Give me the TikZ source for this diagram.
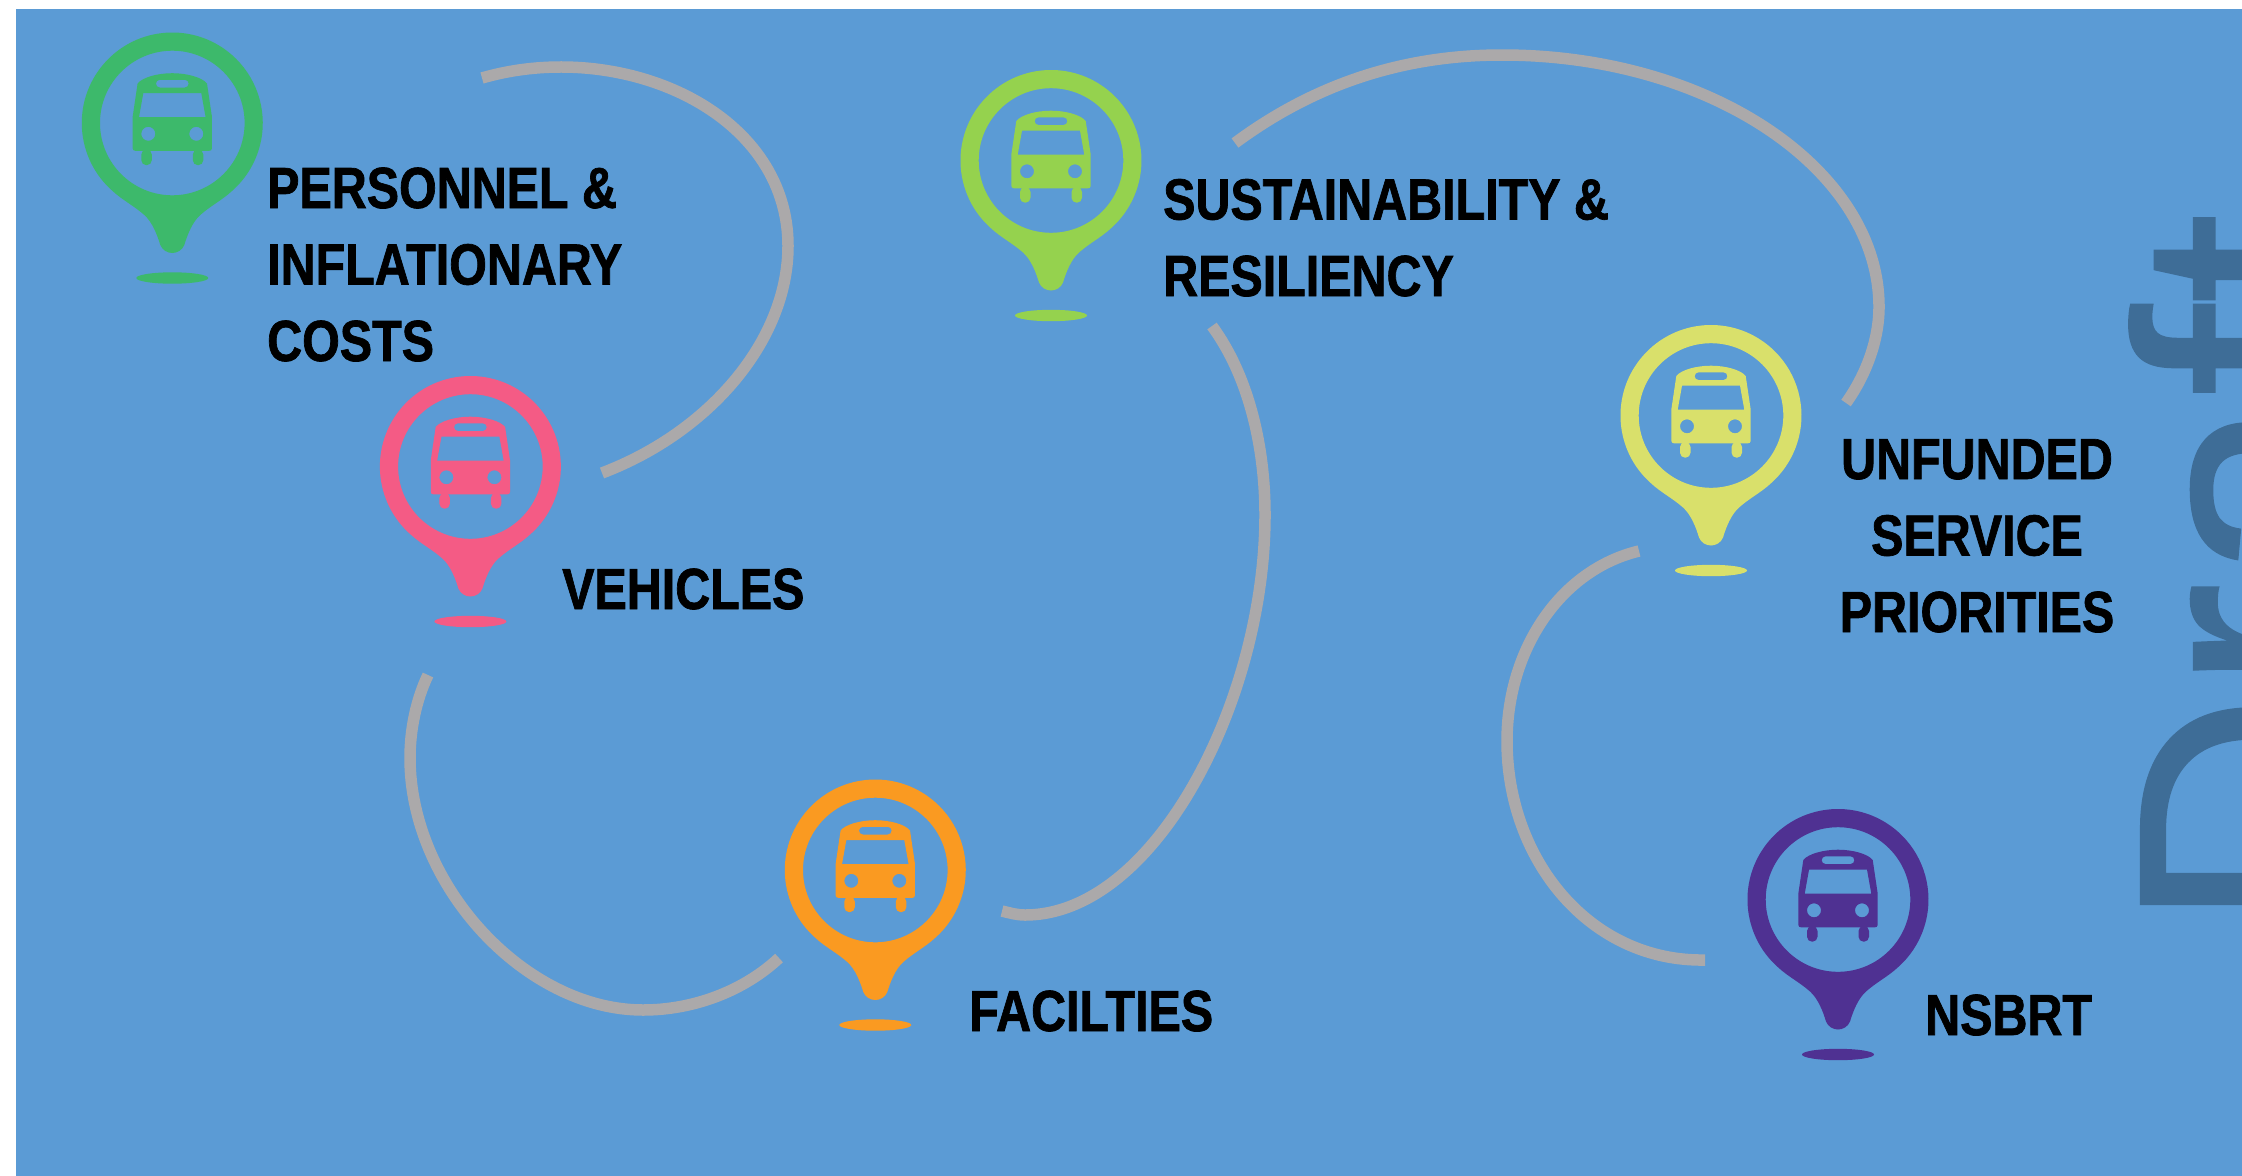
\documentclass[tikz,border=0pt]{standalone}
\usepackage{fontspec}
\setmainfont{Liberation Sans}
\newfontfamily\labelfont[FakeStretch=0.835,FakeBold=1.2]{Liberation Sans Bold}
\newfontfamily\draftfont[FakeBold=0.4]{Liberation Sans}
\definecolor{bgblue}{HTML}{5B9BD5}
\definecolor{draftblue}{HTML}{3E6D97}
\definecolor{arcgrey}{HTML}{ABA9AA}
\definecolor{pinA}{HTML}{3DB96B}
\definecolor{pinB}{HTML}{F45B85}
\definecolor{pinC}{HTML}{FA9A21}
\definecolor{pinD}{HTML}{95D24E}
\definecolor{pinE}{HTML}{D9E06B}
\definecolor{pinF}{HTML}{4F3192}
\tikzset{
  arcline/.style={draw=arcgrey,line width=11.5pt},
  lab/.style={inner sep=0pt,anchor=base west,font=\labelfont\fontsize{58}{76.5}\selectfont,text=black},
  buspin/.pic={
    \fill[even odd rule,pic actions]
      (-59.4,68.3) arc[start angle=131,end angle=409,radius=90.5]
      .. controls (50,77) and (38,83) .. (28,92)
      .. controls (20,99) and (15,112) .. (12,122)
      .. controls (10,127) and (5,130) .. (0,130)
      .. controls (-5,130) and (-10,127) .. (-12,122)
      .. controls (-15,112) and (-20,99) .. (-28,92)
      .. controls (-38,83) and (-50,77) .. (-59.4,68.3) -- cycle
      (0,0) circle[radius=72.3];
    \fill[pic actions] (0,155) ellipse[x radius=36,y radius=5.7];
    \begin{scope}[shift={(0,-1.5)}]
    \fill[even odd rule,pic actions]
      (-39.6,27) -- (-39.6,-5) -- (-34.7,-38)
      .. controls (-30,-44) and (-15,-48.3) .. (0,-48.3)
      .. controls (15,-48.3) and (30,-44) .. (34.7,-38)
      -- (39.6,-5) -- (39.6,27) .. controls (39.6,28.5) and (38.5,29.3) .. (37,29.3)
      -- (-37,29.3) .. controls (-38.5,29.3) and (-39.6,28.5) .. (-39.6,27) -- cycle
      (-29,-28.3) -- (29,-28.3) -- (33.3,-4.3) -- (-33.3,-4.3) -- cycle
      (-24,12.3) circle[radius=7]
      (24,12.3) circle[radius=7]
      (-12.5,-41.7) -- (12.5,-41.7) arc[start angle=-90,end angle=90,radius=3.85]
      -- (-12.5,-34) arc[start angle=90,end angle=270,radius=3.85] -- cycle;
    \fill[pic actions,rounded corners=5pt] (-31,28) rectangle (-20.5,43.7);
    \fill[pic actions,rounded corners=5pt] (20.5,28) rectangle (31,43.7);
    \end{scope}
  }
}
\begin{document}
\begin{tikzpicture}[x=1pt,y=-1pt]
\useasboundingbox (0,0) rectangle (2242,1175);
\begin{scope}
\clip (0,0) rectangle (2250,1185);
\fill[bgblue] (16,9) rectangle (2250,1185);
\node[rotate=90,anchor=base west,inner sep=0pt,text=draftblue,font=\draftfont\fontsize{332}{332}\selectfont] (draft) at (2369,932) {Draft};
\end{scope}

% end points of the arcs
\coordinate (a1s) at (482,78);   \coordinate (a1e) at (602,473);
\coordinate (a2s) at (1235,143); \coordinate (a2e) at (1846,403);
\coordinate (a3s) at (1212,326); \coordinate (a3e) at (1002,911);
\coordinate (a4s) at (428,675);  \coordinate (a4e) at (779,958);
\coordinate (a5s) at (1639,551); \coordinate (a5e) at (1705,960);

\draw[arcline] (a1s) .. controls (620,38) and (788,110) .. (788,246)
  .. controls (788,340) and (710,432) .. (a1e);
\draw[arcline] (a2s) .. controls (1320,80) and (1410,55) .. (1502,55)
  .. controls (1710,55) and (1879,170) .. (1879,307)
  .. controls (1879,340) and (1866,375) .. (a2e);
\draw[arcline] (a3s) .. controls (1248,375) and (1265,445) .. (1265,515)
  .. controls (1265,700) and (1155,915) .. (1025,915)
  .. controls (1017,915) and (1010,913) .. (a3e);
\draw[arcline] (a4s) .. controls (416,700) and (410,730) .. (410,758)
  .. controls (410,885) and (525,1010) .. (643,1010)
  .. controls (695,1010) and (745,990) .. (a4e);
\draw[arcline] (a5s) .. controls (1560,570) and (1507,650) .. (1507,741)
  .. controls (1507,860) and (1590,962) .. (a5e);

\pic[pinA] (p1) at (172.3,123) {buspin};
\pic[pinB] (p2) at (470.4,466.5) {buspin};
\pic[pinC] (p3) at (875.3,870) {buspin};
\pic[pinD] (p4) at (1051,160.5) {buspin};
\pic[pinE] (p5) at (1711,415.5) {buspin};
\pic[pinF] (p6) at (1838,899.5) {buspin};

\node[lab,align=left] (l1) at (267,361) {PERSONNEL \&\\INFLATIONARY\\COSTS};
\node[lab] (l2) at (562,609) {VEHICLES};
\node[lab] (l3) at (969,1031) {FACILTIES};
\node[lab,align=left] (l4) at (1163,296) {SUSTAINABILITY \&\\RESILIENCY};
\node[lab,align=center,anchor=base] (l5) at (1977,632) {UNFUNDED\\SERVICE\\PRIORITIES};
\node[lab] (l6) at (1925,1035) {NSBRT};
\end{tikzpicture}
\end{document}
